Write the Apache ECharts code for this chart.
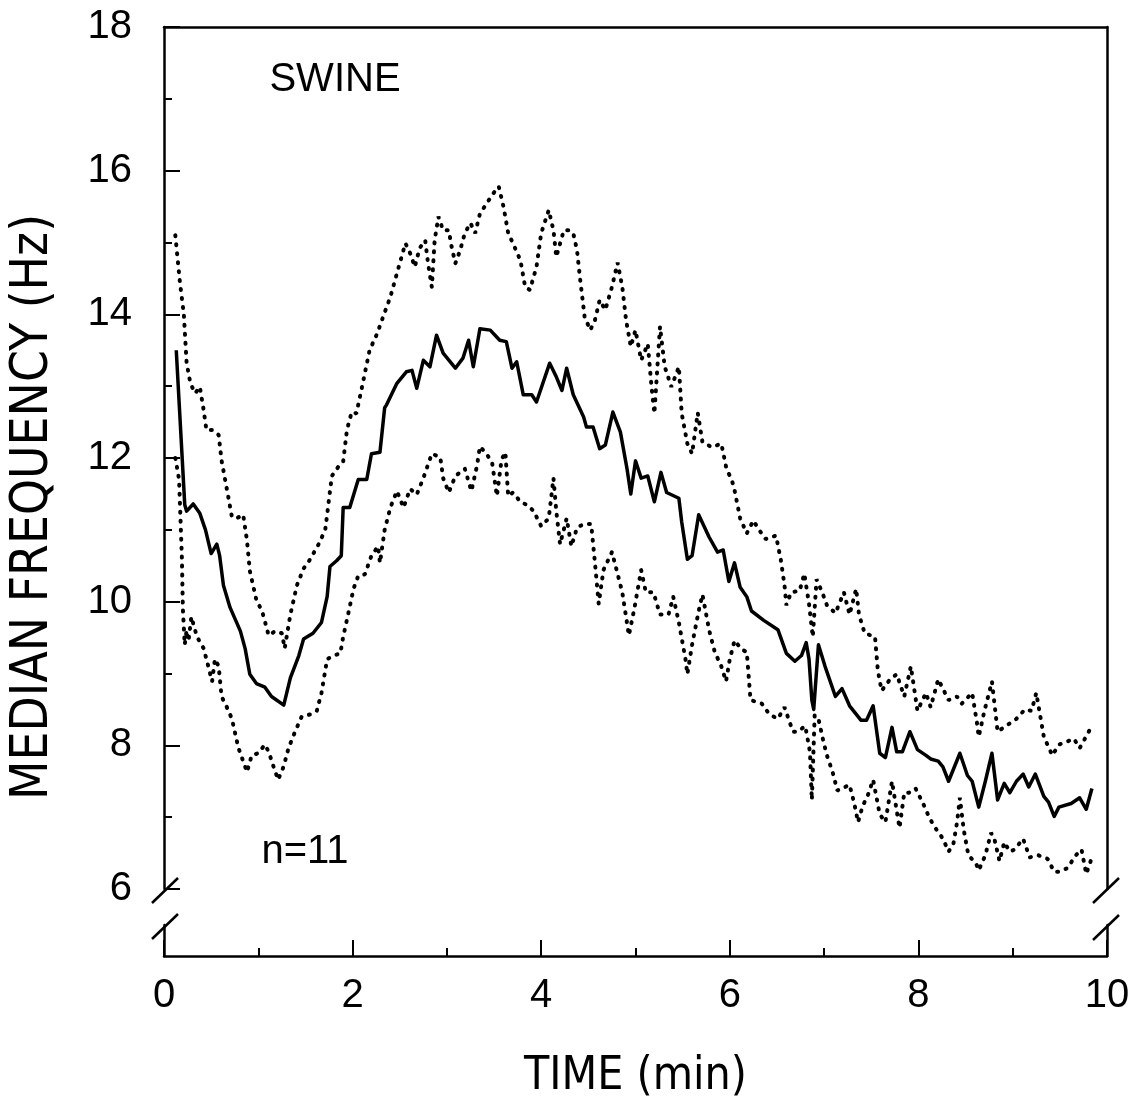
<!DOCTYPE html>
<html>
<head>
<meta charset="utf-8">
<script src="https://cdn.jsdelivr.net/npm/echarts@6/dist/echarts.min.js"></script>
<style>
  html, body { margin: 0; padding: 0; background: #fff; }
  #main { width: 1135px; height: 1104px; }
</style>
</head>
<body>
<div id="main"></div>
<script>
// median frequency, solid line
var medianT = [0.13, 0.22, 0.24, 0.31, 0.38, 0.44, 0.50, 0.56, 0.59, 0.63, 0.70, 0.81, 0.86, 0.91, 0.98, 1.07, 1.14, 1.27, 1.34, 1.43,
  1.48, 1.58, 1.67, 1.73, 1.76, 1.83, 1.88, 1.90, 1.97, 2.06, 2.15, 2.20, 2.29, 2.34, 2.36, 2.47, 2.57, 2.63, 2.68, 2.75,
  2.82, 2.89, 2.96, 3.09, 3.17, 3.23, 3.28, 3.35, 3.46, 3.56, 3.63, 3.69, 3.74, 3.81, 3.90, 3.95, 4.09, 4.16, 4.22, 4.27,
  4.34, 4.45, 4.48, 4.55, 4.62, 4.68, 4.76, 4.84, 4.91, 4.95, 5.00, 5.06, 5.13, 5.20, 5.27, 5.33, 5.46, 5.49, 5.55, 5.60,
  5.67, 5.78, 5.87, 5.93, 5.99, 6.05, 6.11, 6.18, 6.23, 6.36, 6.51, 6.60, 6.69, 6.76, 6.81, 6.84, 6.87, 6.89, 6.94, 7.01,
  7.12, 7.19, 7.27, 7.39, 7.45, 7.52, 7.59, 7.65, 7.72, 7.77, 7.83, 7.91, 7.99, 8.08, 8.13, 8.21, 8.26, 8.32, 8.44, 8.52,
  8.57, 8.64, 8.71, 8.78, 8.84, 8.91, 8.97, 9.04, 9.11, 9.17, 9.24, 9.33, 9.38, 9.44, 9.49, 9.62, 9.71, 9.78, 9.84];
var medianHz = [13.50, 11.35, 11.26, 11.36, 11.23, 11.00, 10.67, 10.80, 10.64, 10.23, 9.92, 9.59, 9.35, 8.99, 8.86, 8.81, 8.68, 8.56, 8.94, 9.25,
  9.48, 9.56, 9.71, 10.07, 10.49, 10.57, 10.64, 11.31, 11.31, 11.70, 11.70, 12.06, 12.08, 12.70, 12.74, 13.04, 13.20, 13.22, 12.97, 13.36,
  13.27, 13.71, 13.46, 13.25, 13.39, 13.64, 13.27, 13.80, 13.78, 13.64, 13.62, 13.25, 13.34, 12.88, 12.88, 12.78, 13.32, 13.13, 12.94, 13.25,
  12.88, 12.57, 12.43, 12.43, 12.13, 12.18, 12.64, 12.36, 11.85, 11.50, 11.96, 11.72, 11.75, 11.39, 11.80, 11.52, 11.44, 11.11, 10.59, 10.64,
  11.21, 10.90, 10.69, 10.72, 10.28, 10.54, 10.20, 10.07, 9.87, 9.74, 9.61, 9.28, 9.17, 9.25, 9.43, 9.20, 8.63, 8.50, 9.40, 9.10,
  8.68, 8.79, 8.55, 8.35, 8.35, 8.55, 7.89, 7.83, 8.25, 7.91, 7.91, 8.19, 7.94, 7.86, 7.81, 7.78, 7.70, 7.50, 7.89, 7.58,
  7.50, 7.14, 7.50, 7.89, 7.24, 7.47, 7.34, 7.50, 7.60, 7.42, 7.60, 7.29, 7.21, 7.01, 7.14, 7.19, 7.27, 7.11, 7.40];

// upper dotted line
var upperT = [0.12, 0.17, 0.21, 0.24, 0.28, 0.33, 0.38, 0.42, 0.45, 0.51, 0.58, 0.61, 0.68, 0.72, 0.77, 0.84, 0.88, 0.91, 0.98, 1.04,
  1.11, 1.18, 1.25, 1.28, 1.34, 1.41, 1.48, 1.55, 1.64, 1.71, 1.78, 1.85, 1.90, 1.94, 1.99, 2.04, 2.10, 2.18, 2.26, 2.33,
  2.40, 2.47, 2.56, 2.61, 2.66, 2.71, 2.77, 2.80, 2.84, 2.87, 2.91, 2.96, 3.02, 3.05, 3.09, 3.14, 3.19, 3.25, 3.30, 3.35,
  3.42, 3.49, 3.55, 3.60, 3.65, 3.70, 3.78, 3.83, 3.88, 3.95, 4.00, 4.08, 4.13, 4.16, 4.24, 4.29, 4.34, 4.38, 4.41, 4.46,
  4.52, 4.57, 4.62, 4.68, 4.75, 4.81, 4.86, 4.90, 4.95, 5.00, 5.06, 5.13, 5.17, 5.20, 5.26, 5.31, 5.38, 5.46, 5.49, 5.55,
  5.60, 5.66, 5.71, 5.81, 5.91, 5.96, 6.04, 6.11, 6.18, 6.25, 6.31, 6.38, 6.49, 6.54, 6.58, 6.60, 6.65, 6.74, 6.79, 6.84,
  6.88, 6.92, 6.98, 7.03, 7.12, 7.21, 7.27, 7.34, 7.37, 7.43, 7.54, 7.57, 7.61, 7.70, 7.77, 7.85, 7.92, 7.99, 8.08, 8.13,
  8.21, 8.32, 8.41, 8.46, 8.57, 8.62, 8.64, 8.70, 8.78, 8.84, 8.93, 9.04, 9.13, 9.20, 9.25, 9.33, 9.42, 9.49, 9.65, 9.71, 9.84];
var upperHz = [15.10, 14.43, 14.01, 13.32, 13.04, 12.90, 12.99, 12.67, 12.39, 12.39, 12.32, 11.97, 11.47, 11.18, 11.16, 11.21, 10.85, 10.43, 10.02, 9.87,
  9.53, 9.59, 9.56, 9.35, 9.82, 10.23, 10.46, 10.59, 10.80, 11.00, 11.75, 11.88, 11.95, 12.39, 12.64, 12.62, 12.99, 13.50, 13.73, 13.99,
  14.24, 14.57, 14.99, 14.85, 14.66, 14.92, 15.03, 14.71, 14.38, 15.03, 15.36, 15.17, 15.17, 14.94, 14.71, 14.89, 15.13, 15.27, 15.13, 15.40,
  15.54, 15.68, 15.78, 15.50, 15.13, 14.99, 14.75, 14.38, 14.34, 14.66, 15.13, 15.45, 15.17, 14.80, 15.17, 15.17, 15.13, 14.89, 14.52, 13.97,
  13.78, 13.92, 14.20, 14.06, 14.38, 14.72, 14.38, 13.92, 13.55, 13.78, 13.36, 13.59, 12.99, 12.62, 13.83, 13.27, 12.99, 13.27, 12.62, 12.20,
  12.06, 12.63, 12.22, 12.15, 12.20, 11.88, 11.62, 11.16, 10.95, 11.13, 11.00, 10.87, 10.92, 10.59, 10.23, 9.95, 10.13, 10.15, 10.39, 9.97,
  9.51, 10.31, 10.13, 9.95, 9.84, 10.13, 9.82, 10.18, 9.82, 9.56, 9.51, 9.04, 8.76, 8.92, 8.99, 8.68, 9.10, 8.48, 8.73, 8.53,
  8.92, 8.63, 8.68, 8.58, 8.73, 8.32, 8.12, 8.48, 8.89, 8.19, 8.27, 8.37, 8.50, 8.48, 8.73, 8.12, 7.86, 8.01, 8.09, 7.96, 8.27];

// lower dotted line
var lowerT = [0.12, 0.16, 0.19, 0.20, 0.22, 0.24, 0.26, 0.29, 0.35, 0.42, 0.47, 0.51, 0.54, 0.58, 0.61, 0.66, 0.72, 0.79, 0.88, 0.93,
  1.00, 1.07, 1.11, 1.16, 1.21, 1.27, 1.32, 1.39, 1.46, 1.55, 1.62, 1.67, 1.73, 1.80, 1.87, 1.90, 1.96, 2.01, 2.06, 2.13,
  2.20, 2.27, 2.29, 2.34, 2.40, 2.47, 2.54, 2.61, 2.68, 2.75, 2.84, 2.93, 2.96, 3.02, 3.09, 3.19, 3.26, 3.32, 3.35, 3.42,
  3.48, 3.53, 3.58, 3.62, 3.65, 3.70, 3.78, 3.86, 3.92, 4.00, 4.08, 4.13, 4.16, 4.20, 4.27, 4.32, 4.38, 4.45, 4.53, 4.57,
  4.61, 4.66, 4.75, 4.80, 4.86, 4.93, 4.99, 5.06, 5.11, 5.19, 5.26, 5.35, 5.40, 5.46, 5.53, 5.55, 5.60, 5.67, 5.71, 5.78,
  5.84, 5.91, 5.96, 6.00, 6.05, 6.13, 6.18, 6.22, 6.27, 6.34, 6.42, 6.51, 6.58, 6.67, 6.72, 6.80, 6.85, 6.87, 6.90, 6.94,
  6.99, 7.03, 7.09, 7.14, 7.19, 7.27, 7.32, 7.36, 7.41, 7.46, 7.52, 7.59, 7.65, 7.72, 7.77, 7.80, 7.85, 7.90, 7.97, 8.05,
  8.12, 8.19, 8.26, 8.32, 8.37, 8.41, 8.44, 8.48, 8.53, 8.61, 8.64, 8.71, 8.77, 8.80, 8.86, 8.91, 8.97, 9.02, 9.11, 9.18,
  9.27, 9.37, 9.44, 9.49, 9.58, 9.67, 9.73, 9.78, 9.84];
var lowerHz = [12.00, 11.70, 10.60, 9.90, 9.40, 9.60, 9.45, 9.79, 9.51, 9.35, 9.10, 8.89, 9.20, 9.10, 8.68, 8.55, 8.37, 7.96, 7.63, 7.86,
  7.89, 8.01, 7.91, 7.71, 7.52, 7.71, 7.96, 8.19, 8.40, 8.43, 8.48, 8.73, 9.20, 9.25, 9.28, 9.51, 9.87, 10.18, 10.36, 10.38,
  10.64, 10.77, 10.54, 11.00, 11.31, 11.54, 11.31, 11.57, 11.49, 11.72, 12.06, 12.01, 11.72, 11.52, 11.75, 11.85, 11.54, 11.90, 12.16, 12.06,
  11.93, 11.47, 11.98, 12.08, 11.47, 11.52, 11.39, 11.34, 11.26, 11.05, 11.16, 11.72, 11.26, 10.80, 11.16, 10.77, 11.03, 11.08, 11.08, 10.54,
  9.97, 10.44, 10.69, 10.44, 10.13, 9.53, 9.92, 10.44, 10.13, 10.13, 9.82, 9.82, 10.07, 9.71, 9.20, 8.99, 9.40, 9.87, 10.10, 9.61,
  9.30, 9.10, 8.89, 9.20, 9.46, 9.33, 9.30, 8.63, 8.61, 8.58, 8.43, 8.37, 8.53, 8.19, 8.19, 8.27, 7.91, 7.24, 8.42, 8.37,
  8.07, 7.86, 7.63, 7.37, 7.40, 7.45, 7.19, 6.93, 7.16, 7.29, 7.52, 7.04, 6.93, 7.50, 7.09, 6.85, 7.34, 7.34, 7.40, 7.19,
  6.98, 6.83, 6.70, 6.52, 6.62, 6.93, 7.27, 6.83, 6.47, 6.36, 6.26, 6.47, 6.78, 6.73, 6.39, 6.65, 6.52, 6.55, 6.70, 6.44,
  6.47, 6.42, 6.24, 6.24, 6.29, 6.47, 6.55, 6.21, 6.44];

function pairs(xs, ys) {
  return xs.map(function (x, i) { return [x, ys[i]]; });
}

var font = 'Liberation Sans, Arial, sans-serif';
var narrow = 'Liberation Sans Narrow, DejaVu Sans Condensed, sans-serif';
var black = '#000';

var axisLine = { show: true, lineStyle: { color: black, width: 2.5 } };
var noAxis = { axisTick: { show: false }, axisLabel: { show: false }, splitLine: { show: false } };

var dotted = { color: black, width: 4, type: [1, 8], cap: 'round' };

var option = {
  backgroundColor: '#fff',
  animation: false,
  grid: [
    { left: 164, right: 28, top: 27, bottom: 215, outerBoundsMode: 'none' },
    { left: 164, right: 28, top: 925, bottom: 148, outerBoundsMode: 'none' }
  ],
  xAxis: [
    Object.assign({ gridIndex: 0, type: 'value', min: 0, max: 10, position: 'top', axisLine: axisLine }, noAxis),
    {
      gridIndex: 1, type: 'value', min: 0, max: 10, interval: 2,
      axisLine: axisLine,
      axisTick: { inside: true, length: 16, lineStyle: { color: black, width: 2 } },
      minorTick: { show: true, splitNumber: 2, length: 8, lineStyle: { color: black, width: 2 } },
      axisLabel: { margin: 20, color: black, fontSize: 40, fontFamily: font, showMinLabel: true, showMaxLabel: true },
      splitLine: { show: false },
      name: 'TIME (min)', nameLocation: 'middle', nameGap: 98,
      nameTextStyle: { color: black, fontSize: 46, fontFamily: narrow }
    }
  ],
  yAxis: [
    {
      gridIndex: 0, type: 'value', min: 6, max: 18, interval: 2,
      axisLine: axisLine,
      axisTick: { inside: true, length: 16, lineStyle: { color: black, width: 2 } },
      minorTick: { show: true, splitNumber: 2, length: 8, lineStyle: { color: black, width: 2 } },
      axisLabel: { margin: 32, color: black, fontSize: 40, fontFamily: font, showMinLabel: true, showMaxLabel: true },
      splitLine: { show: false }
    },
    Object.assign({ gridIndex: 0, type: 'value', min: 6, max: 18, position: 'right', axisLine: axisLine }, noAxis),
    Object.assign({ gridIndex: 1, type: 'value', min: 0, max: 1, position: 'left', axisLine: axisLine }, noAxis),
    Object.assign({ gridIndex: 1, type: 'value', min: 0, max: 1, position: 'right', axisLine: axisLine }, noAxis)
  ],
  series: [
    { type: 'line', xAxisIndex: 0, yAxisIndex: 0, data: pairs(upperT, upperHz), showSymbol: false, lineStyle: dotted },
    { type: 'line', xAxisIndex: 0, yAxisIndex: 0, data: pairs(lowerT, lowerHz), showSymbol: false, lineStyle: dotted },
    { type: 'line', xAxisIndex: 0, yAxisIndex: 0, data: pairs(medianT, medianHz), showSymbol: false,
      lineStyle: { color: black, width: 3.5, join: 'round' } }
  ],
  graphic: [
    // axis break marks
    { type: 'line', shape: { x1: 152, y1: 903, x2: 178, y2: 878 }, style: { stroke: black, lineWidth: 2.5 } },
    { type: 'line', shape: { x1: 152, y1: 939, x2: 178, y2: 914 }, style: { stroke: black, lineWidth: 2.5 } },
    { type: 'line', shape: { x1: 1093, y1: 903, x2: 1119, y2: 878 }, style: { stroke: black, lineWidth: 2.5 } },
    { type: 'line', shape: { x1: 1093, y1: 940, x2: 1119, y2: 915 }, style: { stroke: black, lineWidth: 2.5 } },
    { type: 'text', x: 335, y: 80, style: { text: 'SWINE', fill: black, font: '40px ' + font, textAlign: 'center', textVerticalAlign: 'middle' } },
    { type: 'text', x: 305, y: 852, style: { text: 'n=11', fill: black, font: '40px ' + font, textAlign: 'center', textVerticalAlign: 'middle' } },
    { type: 'text', x: 34, y: 507, rotation: Math.PI / 2,
      style: { text: 'MEDIAN FREQUENCY (Hz)', fill: black, font: '51px ' + narrow, textAlign: 'center', textVerticalAlign: 'middle' } }
  ]
};

var chart = echarts.init(document.getElementById('main'));
chart.setOption(option);
</script>
</body>
</html>
